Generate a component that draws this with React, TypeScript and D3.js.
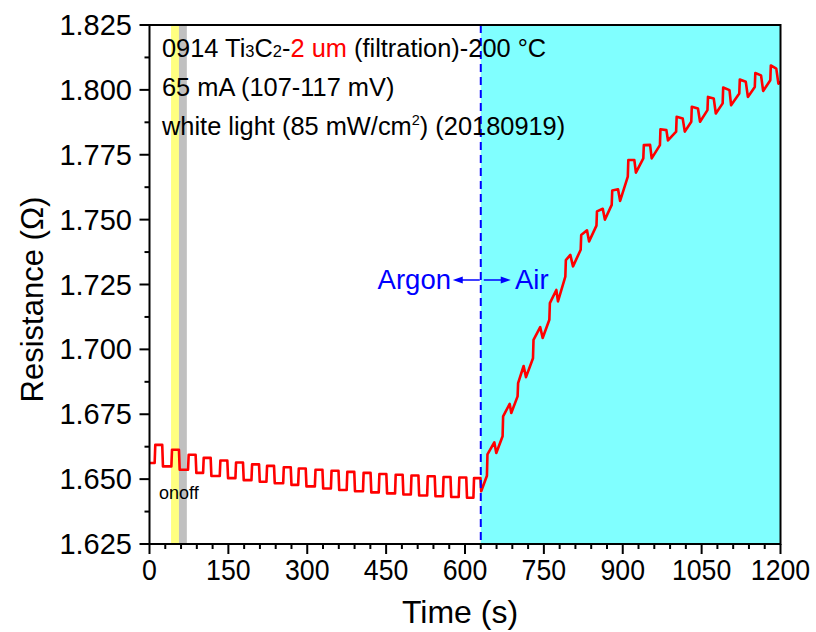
import React from "react";
import * as d3 from "d3";

// ---- Data ----
// Argon section: square-wave light response (on / off times and levels)
const onTimes = [9.8, 41.6, 73.3, 101.9, 133.6, 163.4, 193.9, 222.4, 254.2, 282.7, 314.5, 345, 375, 406, 436, 467, 497, 528, 558, 588, 616];
const offTimes = [24.8, 56.6, 88.3, 116.9, 148.6, 178.4, 208.9, 237.4, 269.2, 297.7, 329.5, 360, 390, 421, 451, 482, 512, 543, 573, 603, 630];
const startLevel = 1.6562;
const highLevels = [1.6632, 1.6613, 1.6594, 1.6582, 1.6572, 1.6564, 1.6557, 1.6551, 1.6546, 1.6541, 1.6536, 1.6532, 1.6528, 1.6524, 1.652, 1.6517, 1.6514, 1.6511, 1.6508, 1.6506, 1.6504];
const lowLevels = [1.6549, 1.6536, 1.6524, 1.6512, 1.6504, 1.6496, 1.649, 1.6484, 1.6478, 1.6472, 1.6464, 1.6458, 1.6453, 1.6449, 1.6445, 1.6441, 1.6437, 1.6434, 1.6431, 1.6428, 1.6453];

// Air section: sawtooth rise (jump time, level before jump, after jump, top, dip)
const jumpTimes = [641.7, 671.5, 700, 729.3, 760.4, 790.8, 820, 850, 879, 909.6, 939.1, 970.7, 1001.5, 1030.3, 1061.1, 1090, 1121.6, 1151.1, 1180.6];
const preLevels = [1.6513, 1.6665, 1.6819, 1.6966, 1.7114, 1.728, 1.7384, 1.7477, 1.7557, 1.7666, 1.7736, 1.7787, 1.7839, 1.7877, 1.7922, 1.7948, 1.7986, 1.8011, 1.8037];
const postLevels = [1.6595, 1.6742, 1.687, 1.7037, 1.7178, 1.7344, 1.7441, 1.7532, 1.7612, 1.773, 1.7787, 1.7848, 1.7896, 1.7935, 1.7973, 1.8009, 1.804, 1.8065, 1.8094];
const topTimes = [655.7, 685, 711.5, 743, 773.7, 800.3, 832, 862, 891, 922, 952, 983, 1014, 1043, 1073, 1103, 1134, 1163, 1192];
const topLevels = [1.6642, 1.679, 1.6936, 1.7086, 1.7229, 1.7364, 1.7459, 1.7542, 1.7617, 1.773, 1.7788, 1.7845, 1.789, 1.7928, 1.7967, 1.7999, 1.8031, 1.8056, 1.8082];
const dipTimes = [659.5, 688, 716, 747.7, 776.8, 805.4, 836, 866, 895, 925, 955, 986, 1018, 1047, 1077, 1106, 1138, 1167, 1196];
const dipLevels = [1.6601, 1.6755, 1.6893, 1.7044, 1.7185, 1.732, 1.7416, 1.75, 1.7572, 1.7681, 1.7736, 1.7805, 1.7839, 1.7877, 1.7909, 1.7941, 1.7973, 1.7996, 1.8024];
const endTime = 1200;
const endLevel = 1.803;

// Axis ticks
const xTicks = [0, 150, 300, 450, 600, 750, 900, 1050, 1200];
const yTicks = [1.625, 1.65, 1.675, 1.7, 1.725, 1.75, 1.775, 1.8, 1.825];

// Shaded regions (s)
const lightOn = [41, 56];
const lightOff = [56, 71];
const switchTime = 630;

const FONT = "'Liberation Sans', Arial, Helvetica, sans-serif";

export default function App() {
  const W = 816, H = 632;
  const x = d3.scaleLinear().domain([0, 1200]).range([149.5, 780.5]);
  const y = d3.scaleLinear().domain([1.625, 1.825]).range([544, 25]);

  // Build curve points
  const pts: [number, number][] = [[0, startLevel]];
  let prev = startLevel;
  onTimes.forEach((t, i) => {
    pts.push([t, prev]);
    pts.push([t + 1.2, highLevels[i]]);
    pts.push([offTimes[i] - 0.6, highLevels[i]]);
    pts.push([offTimes[i] + 0.8, lowLevels[i]]);
    prev = lowLevels[i];
  });
  jumpTimes.forEach((t, i) => {
    pts.push([t, preLevels[i]]);
    pts.push([t + 1, postLevels[i]]);
    pts.push([topTimes[i], topLevels[i]]);
    pts.push([dipTimes[i], dipLevels[i]]);
  });
  pts.push([endTime, endLevel]);

  const line = d3.line<[number, number]>().x(d => x(d[0])).y(d => y(d[1]));

  const [x0, x1] = x.range();
  const [yb, yt] = y.range();

  const xMinor = d3.range(0, 1201, 30).filter(v => v % 150 !== 0);
  const yMinor = d3.range(0, 16).map(i => 1.6375 + i * 0.025).filter(v => v < 1.825);

  const blue = "#0000FF";
  const ay = 280;
  const sx = x(switchTime);

  return (
    <svg width={W} height={H} style={{ position: "absolute", left: 0, top: 0, background: "#fff" }} fontFamily={FONT}>
      <defs>
        <clipPath id="plot">
          <rect x={x0} y={yt} width={x1 - x0} height={yb - yt} />
        </clipPath>
      </defs>
      {/* shaded regions */}
      <rect x={x(lightOn[0])} y={yt} width={x(lightOn[1]) - x(lightOn[0])} height={yb - yt} fill="#FFFF80" />
      <rect x={x(lightOff[0])} y={yt} width={x(lightOff[1]) - x(lightOff[0])} height={yb - yt} fill="#C0C0C0" />
      <rect x={sx} y={yt} width={x(1200) - sx} height={yb - yt} fill="#80FFFF" />

      {/* curve */}
      <path d={line(pts) || ""} fill="none" stroke="#FF0000" strokeWidth={2.6} strokeLinejoin="round" clipPath="url(#plot)" />

      {/* dashed switch line */}
      <line x1={sx} x2={sx} y1={yt} y2={yb} stroke={blue} strokeWidth={2} strokeDasharray="8,5" />

      {/* arrows */}
      <line x1={sx - 1} x2={sx - 20} y1={ay} y2={ay} stroke={blue} strokeWidth={1.5} />
      <path d={`M${sx - 28},${ay} L${sx - 18},${ay - 3.5} L${sx - 18},${ay + 3.5} Z`} fill={blue} />
      <line x1={sx + 3} x2={sx + 22} y1={ay} y2={ay} stroke={blue} strokeWidth={1.5} />
      <path d={`M${sx + 30},${ay} L${sx + 20},${ay - 3.5} L${sx + 20},${ay + 3.5} Z`} fill={blue} />
      <text x={451} y={289} textAnchor="end" fontSize={27.5} fill={blue}>Argon</text>
      <text x={515} y={289} fontSize={27.5} fill={blue}>Air</text>

      {/* annotation text */}
      <text x={162} y={57} fontSize={25.4} fill="#000">
        <tspan>0914 Ti</tspan>
        <tspan fontSize={16.5}>3</tspan>
        <tspan>C</tspan>
        <tspan fontSize={16.5}>2</tspan>
        <tspan>-</tspan>
        <tspan fill="#FF0000">2 um</tspan>
        <tspan> (filtration)-200 °C</tspan>
      </text>
      <text x={162} y={96} fontSize={25.4} fill="#000">65 mA (107-117 mV)</text>
      <text x={162} y={135} fontSize={25.4} fill="#000">
        <tspan>white light (85 mW/cm</tspan>
        <tspan fontSize={14.5} dy={-10}>2</tspan>
        <tspan dy={10}>) (20180919)</tspan>
      </text>
      <text x={159} y={499} fontSize={18} fill="#000">onoff</text>

      {/* frame */}
      <rect x={x0} y={yt} width={x1 - x0} height={yb - yt} fill="none" stroke="#000" strokeWidth={2} />

      {/* x ticks */}
      {xTicks.map(v => (
        <g key={"xt" + v}>
          <line x1={x(v)} x2={x(v)} y1={yb} y2={yb + 10} stroke="#000" strokeWidth={2} />
          <text x={x(v)} y={580} fontSize={29} textAnchor="middle" transform={`translate(${x(v)},0) scale(0.92,1) translate(${-x(v)},0)`}>{String(v)}</text>
        </g>
      ))}
      {xMinor.map(v => (
        <line key={"xm" + v} x1={x(v)} x2={x(v)} y1={yb} y2={yb + 5} stroke="#000" strokeWidth={2} />
      ))}

      {/* y ticks */}
      {yTicks.map(v => (
        <g key={"yt" + v}>
          <line x1={x0 - 10} x2={x0} y1={y(v)} y2={y(v)} stroke="#000" strokeWidth={2} />
          <text x={132} y={y(v) + 10} fontSize={29} textAnchor="end">{v.toFixed(3)}</text>
        </g>
      ))}
      {yMinor.map(v => (
        <line key={"ym" + v} x1={x0 - 5} x2={x0} y1={y(v)} y2={y(v)} stroke="#000" strokeWidth={2} />
      ))}

      {/* axis titles */}
      <text x={460} y={623} fontSize={32} textAnchor="middle">Time (s)</text>
      <text transform={`translate(43,${(yt + yb) / 2 + 15}) rotate(-90)`} fontSize={31} textAnchor="middle">Resistance (Ω)</text>
    </svg>
  );
}
